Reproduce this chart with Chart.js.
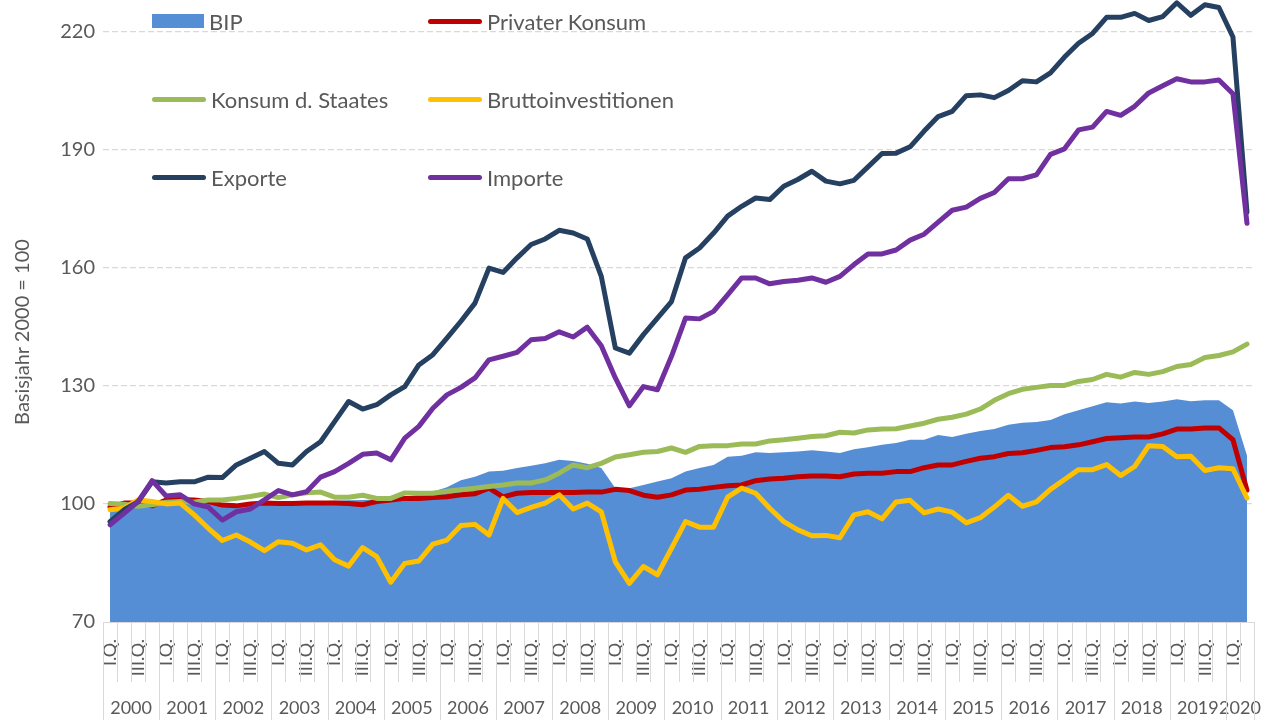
<!DOCTYPE html>
<html>
<head>
<meta charset="utf-8">
<script src="https://cdn.jsdelivr.net/npm/chart.js@4.4.1/dist/chart.umd.min.js"></script>
<style>
  html, body { margin: 0; padding: 0; background: #ffffff; }
  #wrap { position: relative; width: 1276px; height: 720px; overflow: hidden; }
  #c { position: absolute; left: 0; top: 0; }
  #legend { position: absolute; left: 0; top: 0; width: 1276px; height: 720px; pointer-events: none;
            font-family: Lato, "Open Sans", sans-serif; font-size: 22px; color: #595959; }
  .item { position: absolute; display: flex; align-items: center; height: 26px; white-space: nowrap; }
  .sw { display: inline-block; margin-right: 5px; }
  #ytitle { position: absolute; left: 21px; top: 332px; transform: translate(-50%, -50%) rotate(-90deg);
            white-space: nowrap; font-family: Lato, "Open Sans", sans-serif; font-size: 20px; color: #595959; }
</style>
</head>
<body>
<div id="wrap">
  <canvas id="c" width="1276" height="720"></canvas>
  <div id="legend"></div>
  <div id="ytitle">Basisjahr 2000 = 100</div>
</div>
<script>
// ---------------- data ----------------
const years = ["2000","2001","2002","2003","2004","2005","2006","2007","2008","2009",
               "2010","2011","2012","2013","2014","2015","2016","2017","2018","2019","2020"];
const quarterTicks = ["I.Q.", "", "III.Q.", ""];
const quartersInLastYear = 2;

const seriesNames = ["BIP", "Privater Konsum", "Konsum d. Staates", "Bruttoinvestitionen", "Exporte", "Importe"];

const bip = [98.5,99.3,99.7,99.8,100.0,100.0,100.1,100.0,99.9,100.0,
             100.1,100.3,100.4,100.5,100.6,100.7,100.8,100.9,101.0,101.1,
             101.4,101.9,102.3,103.1,104.2,106.0,106.9,108.2,108.4,109.1,
             109.7,110.3,111.2,110.9,110.2,109.1,104.0,104.0,104.8,105.7,
             106.5,108.2,109.1,109.9,112.0,112.2,113.1,112.9,113.1,113.3,
             113.6,113.3,112.9,113.9,114.4,115.0,115.5,116.3,116.3,117.5,
             117.0,117.8,118.5,119.0,120.1,120.6,120.8,121.3,122.8,123.8,
             124.8,125.8,125.5,126.0,125.6,126.0,126.6,126.1,126.3,126.3,
             123.8,112.3];

const privaterKonsum = [99.2,100.2,100.2,99.5,101.0,101.1,101.0,100.6,99.7,99.5,
             100.0,100.2,100.1,100.1,100.2,100.2,100.2,100.1,99.8,100.6,
             101.0,101.4,101.4,101.6,101.8,102.3,102.6,104.0,101.8,102.7,
             102.9,102.9,102.9,102.9,103.0,103.0,103.7,103.4,102.2,101.7,
             102.3,103.5,103.7,104.2,104.6,104.8,105.9,106.3,106.5,106.9,
             107.1,107.1,106.9,107.6,107.8,107.8,108.2,108.2,109.2,109.9,
             109.9,110.8,111.6,112.0,112.8,113.0,113.6,114.3,114.5,115.0,
             115.8,116.6,116.8,117.0,117.0,117.8,119.0,119.0,119.3,119.3,
             116.3,103.5];

const konsumStaat = [100.1,99.9,99.4,99.8,100.4,100.6,100.4,101.0,101.0,101.4,
             101.9,102.5,101.6,102.3,102.8,103.0,101.7,101.7,102.2,101.4,
             101.4,102.8,102.7,102.7,103.2,103.6,104.0,104.4,104.8,105.3,
             105.3,106.1,107.8,109.9,109.2,110.3,111.9,112.5,113.1,113.3,
             114.2,113.1,114.6,114.8,114.8,115.2,115.2,116.0,116.3,116.7,
             117.1,117.3,118.2,118.0,118.8,119.0,119.1,119.8,120.5,121.5,
             122.0,122.8,124.1,126.3,128.0,129.1,129.6,130.1,130.1,131.1,
             131.6,132.9,132.2,133.4,132.9,133.6,134.9,135.4,137.2,137.7,
             138.6,140.6];

const bruttoinvestitionen = [98.5,98.9,101.0,100.6,100.0,100.2,97.2,93.8,90.7,92.1,
             90.3,88.1,90.4,90.0,88.3,89.6,85.8,84.2,88.9,86.6,
             80.1,84.9,85.5,89.8,90.8,94.5,94.8,92.1,101.4,97.8,
             99.1,100.2,102.3,98.7,100.2,98.0,85.3,79.8,84.1,82.0,
             88.7,95.5,94.1,94.1,101.7,104.0,102.7,98.9,95.5,93.4,
             91.9,92.0,91.4,97.2,98.0,96.2,100.5,100.9,97.7,98.7,
             97.9,95.2,96.5,99.2,102.2,99.4,100.5,103.7,106.2,108.7,
             108.7,110.0,107.2,109.5,114.8,114.6,112.0,112.1,108.5,109.2,
             108.9,101.5];

const exporte = [95.5,98.5,100.5,105.6,105.3,105.6,105.6,106.8,106.7,109.9,
             111.6,113.3,110.3,109.9,113.3,115.8,120.9,126.0,124.1,125.2,
             127.7,129.8,135.3,137.9,142.1,146.4,151.0,159.9,158.8,162.5,
             165.9,167.3,169.5,168.8,167.3,157.8,139.6,138.3,143.0,147.2,
             151.4,162.5,165.0,168.8,173.1,175.6,177.7,177.3,180.7,182.4,
             184.5,182.0,181.3,182.2,185.6,189.0,189.1,190.7,194.7,198.4,
             199.7,203.7,203.9,203.2,205.0,207.5,207.2,209.5,213.5,217.0,
             219.5,223.6,223.6,224.6,222.8,223.8,227.3,224.1,226.8,226.1,
             218.6,174.1];

const importe = [94.7,97.6,100.6,105.9,102.0,102.3,100.0,99.2,95.9,98.0,
             98.7,101.0,103.4,102.3,103.1,106.8,108.2,110.3,112.6,112.9,
             111.2,116.7,119.7,124.3,127.7,129.6,132.0,136.6,137.5,138.5,
             141.7,142.0,143.7,142.4,144.9,140.2,132.0,124.9,129.8,129.0,
             137.5,147.2,147.0,148.9,153.1,157.4,157.4,155.9,156.5,156.8,
             157.4,156.3,157.8,160.8,163.5,163.5,164.5,167.0,168.5,171.6,
             174.6,175.4,177.6,179.1,182.6,182.6,183.6,188.8,190.2,195.0,
             195.7,199.7,198.7,201.0,204.4,206.2,208.0,207.2,207.2,207.7,
             204.2,171.3];

const yTicks = [70, 100, 130, 160, 190, 220];

// ---------------- build ----------------
const quarterCounts = years.map((y, k) => (k === years.length - 1 ? quartersInLastYear : quarterTicks.length));
const categories = years.flatMap((y, k) => quarterTicks.slice(0, quarterCounts[k]));
const yearStarts = [];
{ let s = 0; quarterCounts.forEach(c => { yearStarts.push(s); s += c; }); }
const yearCenters = yearStarts.map((s, k) => s + (quarterCounts[k] - 1) / 2);

const colors = ["#558ed5", "#c00000", "#9bbb59", "#ffc000", "#254061", "#7030a0"];
const values = [bip, privaterKonsum, konsumStaat, bruttoinvestitionen, exporte, importe];

const FONT = "Lato, 'Open Sans', sans-serif";
const TXT = "#595959";
const GRID = "#d9d9d9";

const datasets = values.map((v, i) => {
  const base = {
    label: seriesNames[i], data: v, pointRadius: 0, pointHoverRadius: 0,
    tension: 0, order: values.length - i
  };
  if (i === 0) {
    return Object.assign(base, { fill: 'start', backgroundColor: colors[0], borderColor: colors[0], borderWidth: 0 });
  }
  return Object.assign(base, { fill: false, borderColor: colors[i], backgroundColor: colors[i],
    borderWidth: 5, borderJoinStyle: 'round', borderCapStyle: 'round' });
});

function noPad(s) { s.paddingTop = 0; s.paddingBottom = 0; s.paddingLeft = 0; s.paddingRight = 0; }

const separators = {
  id: 'separators',
  afterDraw(chart) {
    const xs = chart.scales.x;
    const ctx = chart.ctx;
    const top = chart.chartArea.bottom;
    const yearBoundaries = new Set(yearStarts.concat([categories.length]));
    ctx.save();
    ctx.strokeStyle = GRID;
    ctx.lineWidth = 1;
    for (let i = 0; i <= categories.length; i++) {
      const px = Math.round(xs.getPixelForValue(i - 0.5)) + 0.5;
      const bottom = yearBoundaries.has(i) ? chart.height : top + 60;
      ctx.beginPath();
      ctx.moveTo(px, top);
      ctx.lineTo(px, bottom);
      ctx.stroke();
    }
    ctx.restore();
  }
};

const chart = new Chart(document.getElementById('c'), {
  type: 'line',
  data: { labels: categories, datasets },
  options: {
    responsive: false,
    animation: false,
    devicePixelRatio: 1,
    layout: { autoPadding: false, padding: { left: 0, right: 22, top: 0, bottom: 0 } },
    plugins: { legend: { display: false }, tooltip: { enabled: false } },
    scales: {
      x: {
        type: 'category', position: 'bottom', offset: true, weight: 0,
        grid: { display: false },
        border: { display: true, color: GRID, width: 1 },
        ticks: { autoSkip: false, maxRotation: 90, minRotation: 90, padding: 9,
                 color: TXT, font: { family: FONT, size: 18 } },
        afterFit(s) { s.height = 60; noPad(s); }
      },
      x2: {
        type: 'linear', position: 'bottom', weight: 1,
        min: -0.5, max: categories.length - 0.5,
        grid: { display: false }, border: { display: false },
        afterBuildTicks(s) { s.ticks = yearCenters.map(v => ({ value: v })); },
        ticks: { autoSkip: false, maxRotation: 0, minRotation: 0, padding: 7,
                 color: TXT, font: { family: FONT, size: 18 },
                 callback: (v, i) => years[i] },
        afterFit(s) { s.height = 38; noPad(s); }
      },
      y: {
        min: 70, max: 228,
        afterBuildTicks(s) { s.ticks = yTicks.map(v => ({ value: v })); },
        grid: { color: (c) => (c.tick && c.tick.value === 70 ? 'rgba(0,0,0,0)' : GRID),
                lineWidth: 1.3, drawTicks: false },
        border: { display: false, dash: [6, 3] },
        ticks: { padding: 8, color: TXT, font: { family: FONT, size: 20 } },
        afterFit(s) { s.width = 103; noPad(s); }
      }
    }
  },
  plugins: [separators]
});

// ---------------- legend (HTML, 2 columns x 3 rows) ----------------
const legendCols = [152, 428];
const legendRows = [21, 99, 177];
const legend = document.getElementById('legend');
seriesNames.forEach((name, i) => {
  const item = document.createElement('div');
  item.className = 'item';
  item.style.left = legendCols[i % 2] + 'px';
  item.style.top = (legendRows[Math.floor(i / 2)] - 13) + 'px';
  const sw = document.createElement('span');
  sw.className = 'sw';
  if (i === 0) {
    sw.style.width = '52px'; sw.style.height = '14px'; sw.style.background = colors[i];
  } else {
    sw.style.width = '54px'; sw.style.height = '5px'; sw.style.borderRadius = '3px'; sw.style.background = colors[i];
  }
  const tx = document.createElement('span');
  tx.textContent = name;
  item.appendChild(sw);
  item.appendChild(tx);
  legend.appendChild(item);
});
</script>
</body>
</html>
